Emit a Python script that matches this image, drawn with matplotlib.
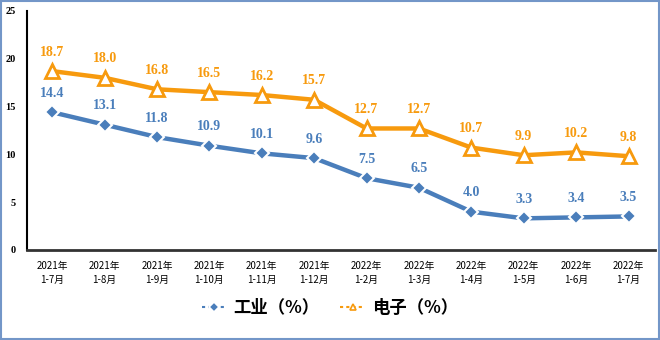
import matplotlib.pyplot as plt
from matplotlib.patches import Rectangle

plt.rcParams['font.family'] = ['Noto Sans CJK SC', 'DejaVu Sans']

periods = ['2021年\n1-7月', '2021年\n1-8月', '2021年\n1-9月', '2021年\n1-10月',
           '2021年\n1-11月', '2021年\n1-12月', '2022年\n1-2月', '2022年\n1-3月',
           '2022年\n1-4月', '2022年\n1-5月', '2022年\n1-6月', '2022年\n1-7月']
industry = [14.4, 13.1, 11.8, 10.9, 10.1, 9.6, 7.5, 6.5, 4.0, 3.3, 3.4, 3.5]
electronics = [18.7, 18.0, 16.8, 16.5, 16.2, 15.7, 12.7, 12.7, 10.7, 9.9, 10.2, 9.8]

blue = '#4a7ebb'
orange = '#f79a0e'

fig = plt.figure(figsize=(6.6, 3.4), dpi=100)
ax = fig.add_axes([0.041, 0.265, 0.951, 0.703])
x = list(range(len(periods)))

ax.plot(x, industry, color=blue, lw=3.2, marker='D', ms=7.5,
        mfc=blue, mec='white', mew=1.5, label='工业（%）', zorder=3)
ax.plot(x, electronics, color=orange, lw=3.2, marker='^', ms=9.5,
        mfc='white', mec=orange, mew=2, label='电子（%）', zorder=3)

for xi, v in zip(x, industry):
    ax.annotate(f'{v:.1f}', (xi, v), xytext=(0, 9), textcoords='offset points',
                ha='center', va='bottom', color=blue, fontsize=10,
                fontweight='bold', family='Liberation Serif')
for xi, v in zip(x, electronics):
    ax.annotate(f'{v:.1f}', (xi, v), xytext=(0, 9), textcoords='offset points',
                ha='center', va='bottom', color=orange, fontsize=10,
                fontweight='bold', family='Liberation Serif')

ax.set_xlim(-0.48, 11.5)
ax.set_ylim(0, 25)
ax.set_yticks([0, 5, 10, 15, 20, 25])
ax.set_yticklabels(['0', '5', '10', '15', '20', '25'], fontsize=7.5,
                   fontweight='bold', family='Liberation Serif')
ax.set_xticks(x)
ax.set_xticklabels(periods, fontsize=7, linespacing=1.5)
ax.tick_params(axis='both', length=0)
ax.tick_params(axis='x', pad=8)
ax.tick_params(axis='y', pad=8)

for s in ['top', 'right']:
    ax.spines[s].set_visible(False)
ax.spines['left'].set_color('black')
ax.spines['left'].set_linewidth(1.5)
ax.spines['bottom'].set_color('#333333')
ax.spines['bottom'].set_linewidth(2)

leg = fig.legend(loc='center', bbox_to_anchor=(0.5, 0.095), ncol=2, frameon=False,
                 handlelength=1.4, columnspacing=1.2, handletextpad=0.4,
                 prop={'family': 'Noto Sans CJK SC', 'weight': 'bold', 'size': 12.5})
for h in leg.legend_handles:
    h.set_linewidth(1.5)
    h.set_linestyle((0, (1.5, 1.5)))
    h.set_markersize(5)
    h.set_markeredgewidth(1.2)

fig.patches.append(Rectangle((0.002, 0.003), 0.996, 0.994, transform=fig.transFigure,
                             fill=False, edgecolor='#7396c8', linewidth=1.5))

fig.savefig('out.png', dpi=100)
